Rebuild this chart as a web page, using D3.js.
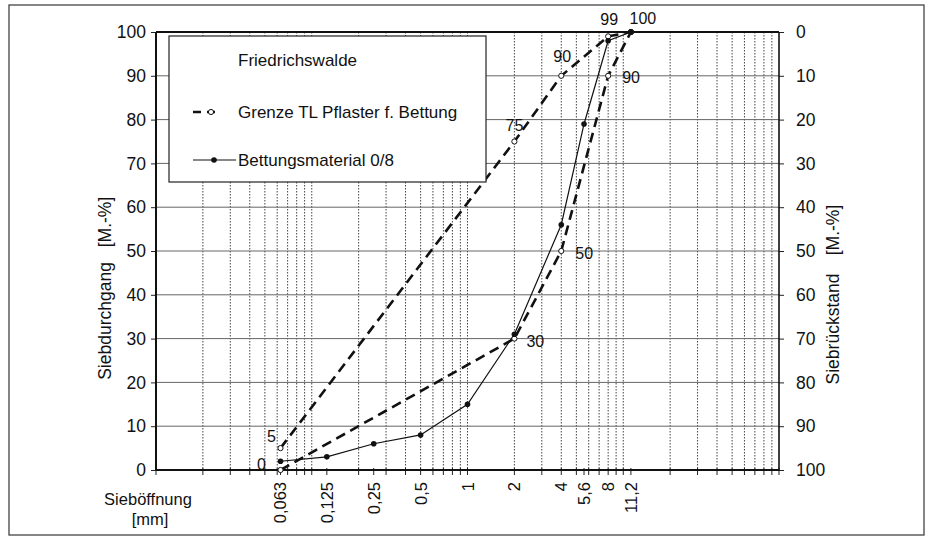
<!DOCTYPE html>
<html><head><meta charset="utf-8">
<script src="https://cdn.jsdelivr.net/npm/d3@7"></script>
<style>body{margin:0;background:#fff}svg{display:block;font-family:"Liberation Sans",Arial,sans-serif}</style>
</head><body>
<svg id="c" width="931" height="537"></svg>
<script>
// Data
const sieves = [0.063, 0.125, 0.25, 0.5, 1, 2, 4, 5.6, 8, 11.2];
const sieveLabels = ["0,063","0,125","0,25","0,5","1","2","4","5,6","8","11,2"];
const material = [2, 3, 6, 8, 15, 31, 56, 79, 98, 100];
const upperSieves = [0.063, 2, 4, 8, 11.2];
const upperValues = [5, 75, 90, 99, 100];
const lowerSieves = [0.063, 2, 4, 8, 11.2];
const lowerValues = [0, 30, 50, 90, 100];
const yTicks = [0,10,20,30,40,50,60,70,80,90,100];

const svg = d3.select("#c");
const L=156, R=779, T=32, B=470;
const x = d3.scaleLog().domain([0.01,100]).range([L,R]);
const y = d3.scaleLinear().domain([0,100]).range([B,T]);
const yR = d3.scaleLinear().domain([100,0]).range([B,T]);

// outer border
svg.append("rect").attr("x",9).attr("y",5).attr("width",915).attr("height",530)
  .attr("fill","none").attr("stroke","#444").attr("stroke-width",1.3);

// grid values
const gridVals = [];
[0.01,0.1,1,10].forEach(d=>{for(let k=1;k<10;k++)gridVals.push(+(d*k).toPrecision(3));});
gridVals.push(100);
const g = svg.append("g");
g.selectAll("line.vg").data(gridVals.filter(v=>v>0.01&&v<100)).join("line")
  .attr("x1",d=>x(d)).attr("x2",d=>x(d)).attr("y1",T).attr("y2",B)
  .attr("stroke","#444").attr("stroke-width",1).attr("stroke-dasharray","1.5,1.5");
g.selectAll("line.hg").data(yTicks.filter(v=>v>0&&v<100)).join("line")
  .attr("x1",L).attr("x2",R).attr("y1",d=>y(d)).attr("y2",d=>y(d))
  .attr("stroke","#666").attr("stroke-width",1);

// bottom ticks
const bt = Array.from(new Set(gridVals.concat(sieves)));
svg.append("g").selectAll("line").data(bt).join("line")
  .attr("x1",d=>x(d)).attr("x2",d=>x(d)).attr("y1",B-2).attr("y2",B+5)
  .attr("stroke","#222").attr("stroke-width",1);

// left axis
const la = svg.append("g").attr("transform",`translate(${L},0)`)
  .call(d3.axisLeft(y).tickValues(yTicks).tickSize(5).tickPadding(5));
la.select(".domain").remove();
la.selectAll("text").attr("font-size",17.5).attr("fill","#111").attr("font-family","Liberation Sans, Arial");
la.selectAll("line").attr("stroke","#222");
const ra = svg.append("g").attr("transform",`translate(${R},0)`)
  .call(d3.axisRight(yR).tickValues(yTicks).tickSize(5).tickPadding(12));
ra.select(".domain").remove();
ra.selectAll("text").attr("font-size",17.5).attr("fill","#111").attr("font-family","Liberation Sans, Arial");
ra.selectAll("line").attr("stroke","#222");

// frame
svg.append("line").attr("x1",L).attr("x2",L).attr("y1",T).attr("y2",B).attr("stroke","#111").attr("stroke-width",2);
svg.append("line").attr("x1",R).attr("x2",R).attr("y1",T).attr("y2",B).attr("stroke","#111").attr("stroke-width",1.6);
svg.append("line").attr("x1",L).attr("x2",R).attr("y1",T).attr("y2",T).attr("stroke","#111").attr("stroke-width",2);
svg.append("line").attr("x1",L).attr("x2",R).attr("y1",B).attr("y2",B).attr("stroke","#111").attr("stroke-width",2);

// x tick labels
svg.append("g").selectAll("text").data(sieves).join("text")
  .attr("transform",(d)=>`translate(${x(d)+6},482) rotate(-90)`)
  .attr("text-anchor","end").attr("font-size",16.5).attr("fill","#111")
  .text((d,i)=>sieveLabels[i]);

// axis titles
svg.append("text").attr("x",148).attr("y",505).attr("text-anchor","middle").attr("font-size",16.5).attr("fill","#111").text("Sieböffnung");
svg.append("text").attr("x",150).attr("y",525).attr("text-anchor","middle").attr("font-size",16.5).attr("fill","#111").text("[mm]");
svg.append("text").attr("transform","translate(111,321) rotate(-90)").attr("text-anchor","middle").attr("font-size",17.5).attr("fill","#111").text("Siebdurchgang");
svg.append("text").attr("transform","translate(111,222) rotate(-90)").attr("text-anchor","middle").attr("font-size",17.5).attr("fill","#111").text("[M.-%]");
svg.append("text").attr("transform","translate(839,329) rotate(-90)").attr("text-anchor","middle").attr("font-size",17.5).attr("fill","#111").text("Siebrückstand");
svg.append("text").attr("transform","translate(839,230) rotate(-90)").attr("text-anchor","middle").attr("font-size",17.5).attr("fill","#111").text("[M.-%]");

// lines
const line = d3.line().x(d=>x(d[0])).y(d=>y(d[1]));
const up = upperSieves.map((s,i)=>[s,upperValues[i]]);
const lo = lowerSieves.map((s,i)=>[s,lowerValues[i]]);
const mat = sieves.map((s,i)=>[s,material[i]]);
[up,lo].forEach(dd=>{
  svg.append("path").datum(dd).attr("d",line).attr("fill","none").attr("stroke","#111")
    .attr("stroke-width",2.6).attr("stroke-dasharray","10,6");
});
svg.append("path").datum(mat).attr("d",line).attr("fill","none").attr("stroke","#111").attr("stroke-width",1.2);
svg.append("g").selectAll("circle").data(up.concat(lo)).join("circle")
  .attr("cx",d=>x(d[0])).attr("cy",d=>y(d[1])).attr("r",2.6)
  .attr("fill","#fff").attr("stroke","#111").attr("stroke-width",1);
svg.append("g").selectAll("circle").data(mat).join("circle")
  .attr("cx",d=>x(d[0])).attr("cy",d=>y(d[1])).attr("r",2.8).attr("fill","#111");

// data labels
const lblU = [[-9,-6,"middle"],[0,-11,"middle"],[1,-14,"middle"],[1,-11,"middle"],[12,-8,"middle"]];
const lblL = [[-19,0,"middle"],[12,8,"start"],[14,8,"start"],[14,7,"start"],[null]];
svg.append("g").selectAll("text").data(up).join("text")
  .attr("x",(d,i)=>x(d[0])+lblU[i][0]).attr("y",(d,i)=>y(d[1])+lblU[i][1])
  .attr("text-anchor",(d,i)=>lblU[i][2]).attr("font-size",16).attr("fill","#111").text(d=>d[1]);
svg.append("g").selectAll("text").data(lo.slice(0,4)).join("text")
  .attr("x",(d,i)=>x(d[0])+lblL[i][0]).attr("y",(d,i)=>y(d[1])+lblL[i][1])
  .attr("text-anchor",(d,i)=>lblL[i][2]).attr("font-size",16).attr("fill","#111").text(d=>d[1]);

// legend
const lg = svg.append("g");
lg.append("rect").attr("x",169).attr("y",36).attr("width",317).attr("height",146)
  .attr("fill","#fff").attr("stroke","#222").attr("stroke-width",1.2);
lg.append("text").attr("x",238).attr("y",66).attr("font-size",17).attr("fill","#111").text("Friedrichswalde");
lg.append("line").attr("x1",193).attr("x2",218).attr("y1",112).attr("y2",112)
  .attr("stroke","#111").attr("stroke-width",2.6).attr("stroke-dasharray","8,6");
lg.append("circle").attr("cx",211).attr("cy",112).attr("r",2.6).attr("fill","#fff").attr("stroke","#111");
lg.append("text").attr("x",238).attr("y",118).attr("font-size",17).attr("fill","#111").text("Grenze TL Pflaster f. Bettung");
lg.append("line").attr("x1",193).attr("x2",236).attr("y1",160).attr("y2",160).attr("stroke","#111").attr("stroke-width",1.2);
lg.append("circle").attr("cx",214).attr("cy",160).attr("r",2.8).attr("fill","#111");
lg.append("text").attr("x",238).attr("y",166).attr("font-size",17).attr("fill","#111").text("Bettungsmaterial 0/8");
</script>
</body></html>
